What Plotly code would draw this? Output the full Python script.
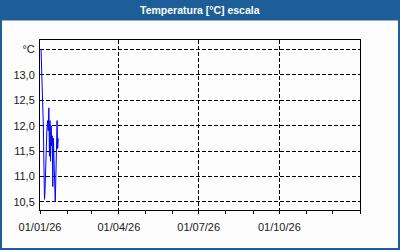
import plotly.graph_objects as go
import pandas as pd

# Data
start = pd.Timestamp("2026-01-01")
day_offsets = [1.2, 1.8, 2.5, 3.1, 3.8, 4.5, 5.1, 5.7, 6.3, 7.0, 7.8, 8.7, 9.4, 10.1,
               10.8, 11.4, 12.0, 12.7, 13.3, 14.0, 14.6, 15.3, 15.9, 16.6, 17.4, 18.1,
               18.7, 19.5, 20.1, 20.8]
temps = [13.5, 13.2, 12.75, 12.4, 12.0, 11.2, 10.55, 10.7, 11.05, 11.6, 11.9, 12.1,
         11.9, 12.35, 11.4, 12.1, 11.3, 12.0, 11.6, 11.8, 10.8, 11.75, 11.35, 10.9,
         10.5, 11.0, 11.5, 12.1, 11.55, 11.75]
times = [start + pd.Timedelta(days=d) for d in day_offsets]

y_tickvals = [10.5, 11.0, 11.5, 12.0, 12.5, 13.0, 13.5]
y_ticktext = ["10,5", "11,0", "11,5", "12,0", "12,5", "13,0", "°C"]
x_tickvals = ["2026-01-01", "2026-04-01", "2026-07-01", "2026-10-01"]
x_ticktext = ["01/01/26", "01/04/26", "01/07/26", "01/10/26"]
title_text = "Temperatura [°C] escala"

BLUE = "#1d5e98"
FONT = "Liberation Sans"

fig = go.Figure()
fig.add_trace(go.Scatter(x=times, y=temps, mode="lines",
                         line=dict(color="#0000ff", width=1), hoverinfo="skip"))

# pixel -> paper helpers (plot area: x 40..360, y 40..210)
def px(x):
    return (x - 40) / 320.0

def py(y):
    return (210 - y) / 170.0

fig.update_layout(
    width=400, height=250,
    margin=dict(l=40, r=40, t=40, b=40),
    paper_bgcolor="#fcfdfc", plot_bgcolor="#fcfdfc",
    showlegend=False,
    font=dict(family=FONT, size=11, color="#1a1a1a"),
    xaxis=dict(
        type="date",
        range=["2026-01-01", "2027-01-01"],
        tickvals=x_tickvals, ticktext=x_ticktext,
        ticks="outside", ticklen=3, tickcolor="black", tickwidth=1,
        showgrid=True, gridcolor="black", gridwidth=1, griddash="4px,2px",
        showline=True, linecolor="black", linewidth=1, mirror=True,
        zeroline=False,
        minor=dict(dtick="M1", tick0="2026-01-01", ticks="outside", ticklen=3,
                   tickcolor="black", showgrid=False),
        ticklabelstandoff=4,
        tickfont=dict(family=FONT, size=11, color="#1a1a1a"),
    ),
    yaxis=dict(
        range=[10.341, 13.685],
        tickvals=y_tickvals, ticktext=y_ticktext,
        ticks="",
        showgrid=True, gridcolor="black", gridwidth=1, griddash="4px,2px",
        showline=True, linecolor="black", linewidth=1, mirror=True,
        zeroline=False,
        ticklabelstandoff=2,
        tickfont=dict(family=FONT, size=11, color="#1a1a1a"),
    ),
    shapes=[
        dict(type="rect", xref="paper", yref="paper",
             x0=px(0), x1=px(400), y0=py(20.5), y1=py(0),
             fillcolor=BLUE, line=dict(width=0), layer="above"),
        dict(type="rect", xref="paper", yref="paper",
             x0=px(1), x1=px(399), y0=py(249), y1=py(1),
             fillcolor="rgba(0,0,0,0)", line=dict(color=BLUE, width=2), layer="above"),
    ],
    annotations=[
        dict(text="<b>" + title_text + "</b>", xref="paper", yref="paper",
             x=0.5, y=py(10.5), xanchor="center", yanchor="middle", showarrow=False,
             font=dict(family=FONT, size=10.5, color="white")),
    ],
)

fig.write_html("out.html")
